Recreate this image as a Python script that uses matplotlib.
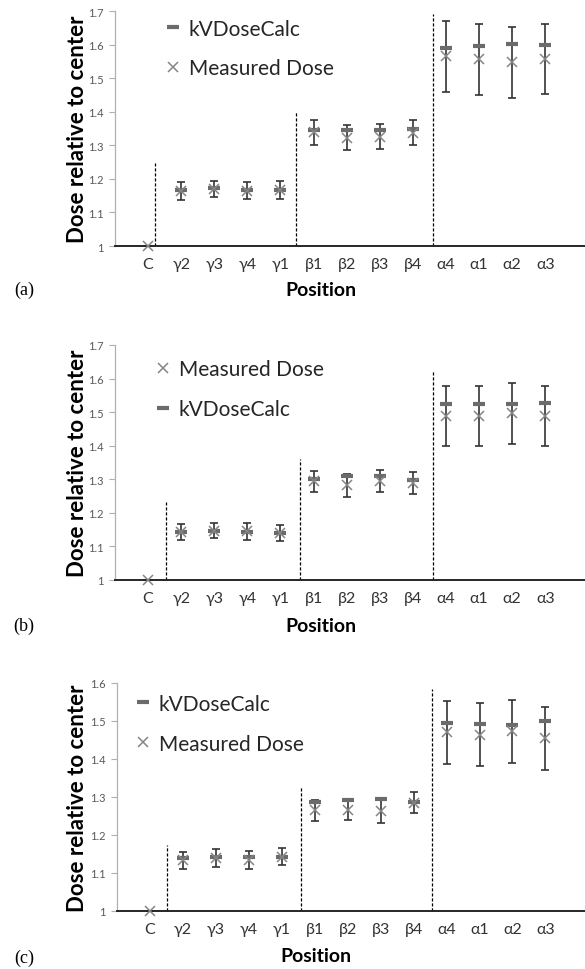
import numpy as np
import matplotlib
matplotlib.use("Agg")
import matplotlib.pyplot as plt

plt.rcParams['font.family'] = ['Lato', 'DejaVu Sans']

positions = ["C", "γ2", "γ3", "γ4", "γ1", "β1", "β2", "β3", "β4", "α4", "α1", "α2", "α3"]
nan = np.nan

# Panel (a)
kv_a = [nan, 1.167, 1.173, 1.167, 1.167, 1.347, 1.347, 1.347, 1.349, 1.591, 1.596, 1.601, 1.598]
meas_a = [1.0, 1.163, 1.170, 1.165, 1.167, 1.339, 1.323, 1.326, 1.338, 1.565, 1.556, 1.547, 1.557]
err_a = [0, 0.027, 0.025, 0.025, 0.026, 0.037, 0.036, 0.036, 0.036, 0.105, 0.105, 0.105, 0.105]
sep_x_a = [0.21, 4.48, 8.6]
sep_top_a = [1.248, 1.40, 1.69]

# Panel (b)
kv_b = [nan, 1.142, 1.145, 1.142, 1.139, 1.301, 1.311, 1.310, 1.299, 1.525, 1.523, 1.523, 1.528]
meas_b = [1.0, 1.143, 1.147, 1.145, 1.139, 1.294, 1.282, 1.295, 1.290, 1.488, 1.488, 1.496, 1.488]
err_b = [0, 0.024, 0.023, 0.025, 0.024, 0.032, 0.034, 0.032, 0.033, 0.090, 0.089, 0.090, 0.090]
sep_x_b = [0.54, 4.6, 8.6]
sep_top_b = [1.233, 1.361, 1.625]

# Panel (c)
kv_c = [nan, 1.140, 1.142, 1.142, 1.142, 1.287, 1.293, 1.296, 1.287, 1.496, 1.493, 1.490, 1.499]
meas_c = [1.0, 1.133, 1.140, 1.134, 1.143, 1.265, 1.266, 1.262, 1.285, 1.470, 1.464, 1.473, 1.455]
err_c = [0, 0.023, 0.023, 0.023, 0.023, 0.028, 0.027, 0.031, 0.027, 0.083, 0.083, 0.083, 0.083]
sep_x_c = [0.52, 4.57, 8.55]
sep_top_c = [1.173, 1.33, 1.583]

yticks_ac = [1.0, 1.1, 1.2, 1.3, 1.4, 1.5, 1.6, 1.7]
yticks_c = [1.0, 1.1, 1.2, 1.3, 1.4, 1.5, 1.6]

W, H = 585, 970
fig = plt.figure(figsize=(W / 100, H / 100), dpi=100)


def rect(l, t, r, b):
    return [l / W, 1 - b / H, (r - l) / W, (b - t) / H]


panels = [
    dict(rect=rect(115, 12, 585, 247), kv=kv_a, meas=meas_a, err=err_a, sx=sep_x_a, st=sep_top_a,
         ymax=1.7, yt=yticks_ac, order="kv", leg=(0.11, 0.968), lab="(a)", laby=290, xlab=(321, 290)),
    dict(rect=rect(115, 346, 585, 581), kv=kv_b, meas=meas_b, err=err_b, sx=sep_x_b, st=sep_top_b,
         ymax=1.7, yt=yticks_ac, order="meas", leg=(0.089, 0.94), lab="(b)", laby=626, xlab=(321, 626)),
    dict(rect=rect(117, 684, 585, 912), kv=kv_c, meas=meas_c, err=err_c, sx=sep_x_c, st=sep_top_c,
         ymax=1.6, yt=yticks_c, order="kv", leg=(0.043, 0.953), lab="(c)", laby=958, xlab=(316, 957)),
]

x = np.arange(len(positions))

for p in panels:
    ax = fig.add_axes(p["rect"])
    ax.set_xlim(-1.0, 13.2)
    ax.set_ylim(1.0, p["ymax"])
    ax.vlines(p["sx"], 1.0, p["st"], colors="black", linestyles=(0, (2.5, 1.5)), linewidth=0.9, zorder=1)
    ax.errorbar(x, p["meas"], yerr=p["err"], fmt="none", ecolor="#333333", elinewidth=1.2,
                capsize=2.6, capthick=1.2, zorder=2)
    h_kv, = ax.plot(x, p["kv"], linestyle="none", marker="_", markersize=9, markeredgewidth=3.0,
                    color="#6b6b6b", label="kVDoseCalc", zorder=3)
    h_m, = ax.plot(x, p["meas"], linestyle="none", marker="x", markersize=7, markeredgewidth=1.1,
                   color="#858585", label="Measured Dose", zorder=4, clip_on=False)
    handles = [h_kv, h_m] if p["order"] == "kv" else [h_m, h_kv]
    ax.legend(handles=handles, loc="upper left", bbox_to_anchor=p["leg"], frameon=False,
              fontsize=15, handlelength=0.6, handletextpad=0.45, labelspacing=0.95, borderpad=0,
              borderaxespad=0, labelcolor="#262626")
    ax.set_xticks(x)
    ax.set_xticklabels(positions)
    ax.set_yticks(p["yt"])
    ax.set_yticklabels(["1" if v == 1.0 else f"{v:.1f}" for v in p["yt"]])
    ax.tick_params(axis="x", length=0, labelsize=11.5, pad=8, labelcolor="#333333")
    ax.tick_params(axis="y", length=4, width=0.8, color="#b0b0b0", labelsize=8, pad=4,
                   labelcolor="#595959")
    for s in ("top", "right"):
        ax.spines[s].set_visible(False)
    ax.spines["left"].set_color("#b0b0b0")
    ax.spines["left"].set_linewidth(0.9)
    ax.spines["bottom"].set_color("#262626")
    ax.spines["bottom"].set_linewidth(1.4)
    l, b, w, h = p["rect"]
    fig.text(77 / W, b + h / 2, "Dose relative to center", rotation=90, ha="center", va="center",
             fontsize=16, fontweight="bold", color="black")
    fig.text(p["xlab"][0] / W, 1 - p["xlab"][1] / H, "Position", ha="center", va="center",
             fontsize=14, fontweight="bold", color="black")
    fig.text(24 / W, 1 - p["laby"] / H, p["lab"], ha="center", va="center", fontsize=13,
             family="Liberation Serif", color="black")

fig.savefig("out.png", dpi=100)
